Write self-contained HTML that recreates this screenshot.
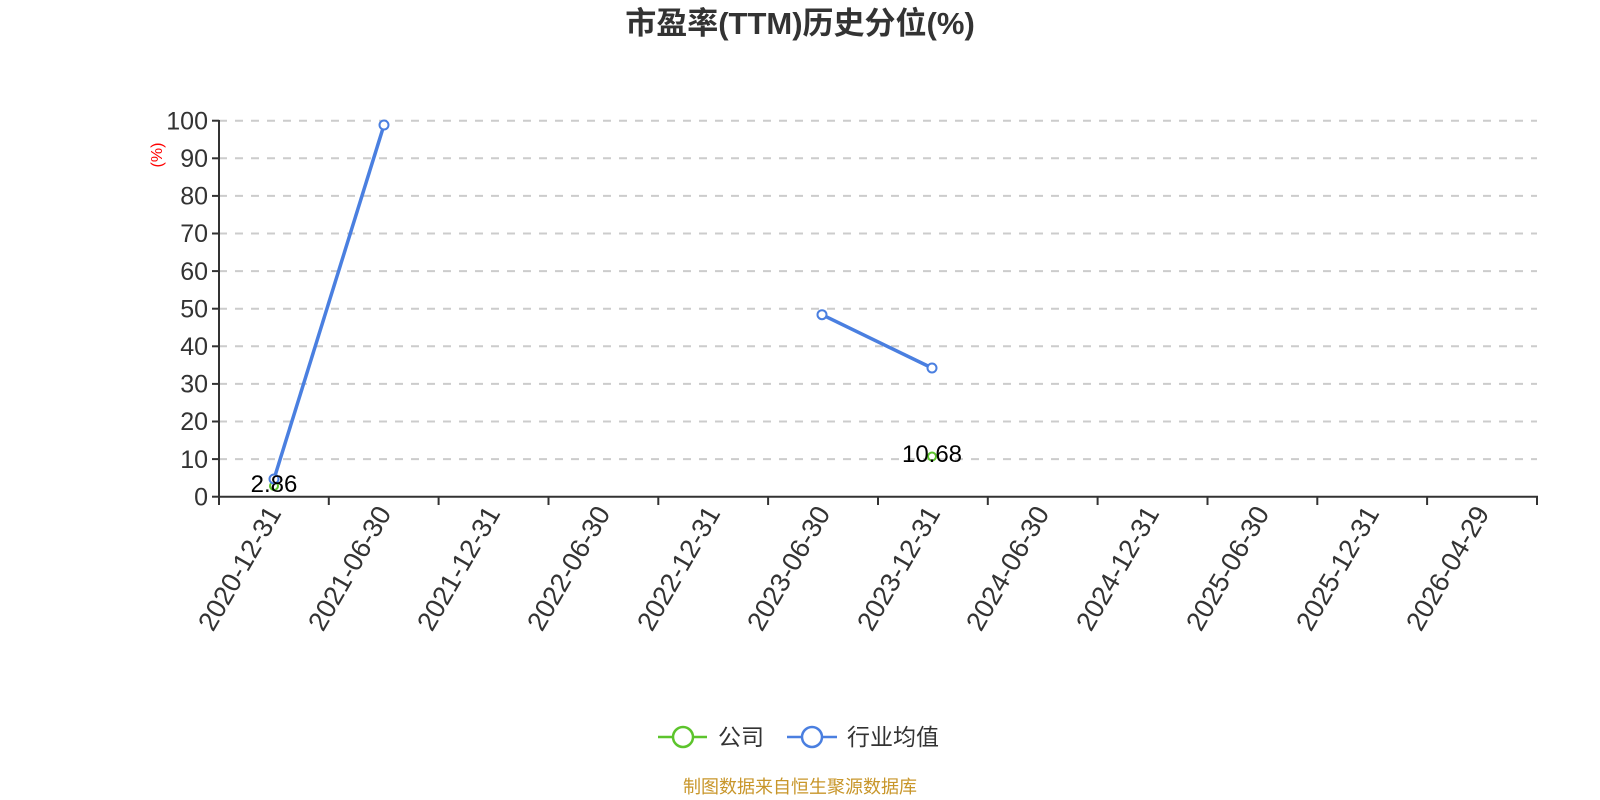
<!DOCTYPE html>
<html><head><meta charset="utf-8"><style>
html,body{margin:0;padding:0;background:#fff;}
svg{display:block;font-family:"Liberation Sans","Noto Sans CJK SC",sans-serif;}
</style></head><body>
<svg width="1600" height="800" viewBox="0 0 1600 800" xmlns="http://www.w3.org/2000/svg">
<text x="800" y="34" text-anchor="middle" font-size="31" font-weight="bold" fill="#333">市盈率(TTM)历史分位(%)</text>
<g stroke="#ccc" stroke-width="2" stroke-dasharray="8,8">
<line x1="219" x2="1537" y1="120.7" y2="120.7"/>
<line x1="219" x2="1537" y1="158.3" y2="158.3"/>
<line x1="219" x2="1537" y1="195.9" y2="195.9"/>
<line x1="219" x2="1537" y1="233.5" y2="233.5"/>
<line x1="219" x2="1537" y1="271.1" y2="271.1"/>
<line x1="219" x2="1537" y1="308.7" y2="308.7"/>
<line x1="219" x2="1537" y1="346.3" y2="346.3"/>
<line x1="219" x2="1537" y1="383.9" y2="383.9"/>
<line x1="219" x2="1537" y1="421.5" y2="421.5"/>
<line x1="219" x2="1537" y1="459.1" y2="459.1"/>
</g>
<g stroke="#333" stroke-width="2">
<line x1="219" x2="219" y1="120" y2="497"/>
<line x1="219" x2="1538" y1="496.7" y2="496.7"/>
<line x1="212" x2="219" y1="120.7" y2="120.7"/><line x1="212" x2="219" y1="158.3" y2="158.3"/><line x1="212" x2="219" y1="195.9" y2="195.9"/><line x1="212" x2="219" y1="233.5" y2="233.5"/><line x1="212" x2="219" y1="271.1" y2="271.1"/><line x1="212" x2="219" y1="308.7" y2="308.7"/><line x1="212" x2="219" y1="346.3" y2="346.3"/><line x1="212" x2="219" y1="383.9" y2="383.9"/><line x1="212" x2="219" y1="421.5" y2="421.5"/><line x1="212" x2="219" y1="459.1" y2="459.1"/><line x1="212" x2="219" y1="496.7" y2="496.7"/>
<line x1="219" x2="219" y1="497" y2="505"/><line x1="328.8" x2="328.8" y1="497" y2="505"/><line x1="438.6" x2="438.6" y1="497" y2="505"/><line x1="548.5" x2="548.5" y1="497" y2="505"/><line x1="658.3" x2="658.3" y1="497" y2="505"/><line x1="768.1" x2="768.1" y1="497" y2="505"/><line x1="878" x2="878" y1="497" y2="505"/><line x1="987.8" x2="987.8" y1="497" y2="505"/><line x1="1097.6" x2="1097.6" y1="497" y2="505"/><line x1="1207.5" x2="1207.5" y1="497" y2="505"/><line x1="1317.3" x2="1317.3" y1="497" y2="505"/><line x1="1427.1" x2="1427.1" y1="497" y2="505"/><line x1="1537" x2="1537" y1="497" y2="505"/>
</g>
<g font-size="25" fill="#333" text-anchor="end">
<text x="208" y="129.5">100</text><text x="208" y="167">90</text><text x="208" y="204.5">80</text><text x="208" y="242">70</text><text x="208" y="280">60</text><text x="208" y="317.5">50</text><text x="208" y="355">40</text><text x="208" y="392.5">30</text><text x="208" y="430">20</text><text x="208" y="468">10</text><text x="208" y="505.5">0</text>
</g>
<text transform="translate(162,155) rotate(-90)" text-anchor="middle" font-size="16" fill="#f00">(%)</text>
<g font-size="27" fill="#333" text-anchor="end">
<text transform="translate(282,513) rotate(-60)">2020-12-31</text>
<text transform="translate(392,513) rotate(-60)">2021-06-30</text>
<text transform="translate(501,513) rotate(-60)">2021-12-31</text>
<text transform="translate(611,513) rotate(-60)">2022-06-30</text>
<text transform="translate(721,513) rotate(-60)">2022-12-31</text>
<text transform="translate(831,513) rotate(-60)">2023-06-30</text>
<text transform="translate(941,513) rotate(-60)">2023-12-31</text>
<text transform="translate(1050,513) rotate(-60)">2024-06-30</text>
<text transform="translate(1160,513) rotate(-60)">2024-12-31</text>
<text transform="translate(1270,513) rotate(-60)">2025-06-30</text>
<text transform="translate(1380,513) rotate(-60)">2025-12-31</text>
<text transform="translate(1490,513) rotate(-60)">2026-04-29</text>
</g>
<g fill="#fff" stroke="#5cc42c" stroke-width="2">
<circle cx="274" cy="486" r="4"/><circle cx="932" cy="456.5" r="4"/>
</g>
<g stroke="#4a7fe0" stroke-width="3.5" fill="none">
<polyline points="274,479 384,125"/>
<polyline points="822,314.7 932,368"/>
</g>
<g fill="#fff" stroke="#4a7fe0" stroke-width="2">
<circle cx="274" cy="479" r="4.5"/><circle cx="384" cy="125" r="4.5"/><circle cx="822" cy="314.7" r="4.5"/><circle cx="932" cy="368" r="4.5"/>
</g>
<g font-size="24" fill="#000" text-anchor="middle">
<text x="274" y="492">2.86</text>
<text x="932" y="462">10.68</text>
</g>
<line x1="658" x2="707" y1="737" y2="737" stroke="#5cc42c" stroke-width="2.5"/>
<circle cx="683" cy="737" r="10" fill="#fff" stroke="#5cc42c" stroke-width="2.5"/>
<text x="718" y="745" font-size="23" fill="#333">公司</text>
<line x1="787" x2="837" y1="737" y2="737" stroke="#4a7fe0" stroke-width="2.5"/>
<circle cx="812" cy="737" r="10" fill="#fff" stroke="#4a7fe0" stroke-width="2.5"/>
<text x="847" y="745" font-size="23" fill="#333">行业均值</text>
<text x="800" y="793" text-anchor="middle" font-size="18" fill="#c8962a">制图数据来自恒生聚源数据库</text>
</svg>
</body></html>
